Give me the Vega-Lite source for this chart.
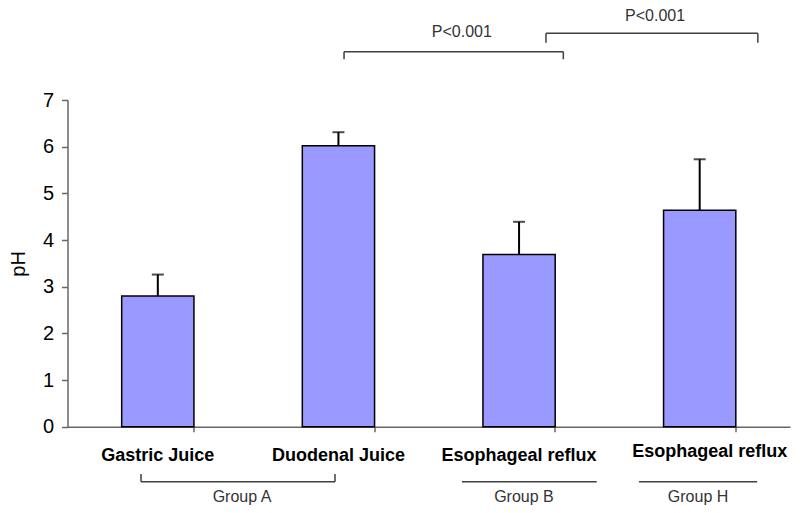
{
  "$schema": "https://vega.github.io/schema/vega-lite/v6.json",
  "width": 722.5,
  "height": 326.7,
  "autosize": {"type": "none"},
  "padding": {"left": 67.5, "top": 100, "right": 10, "bottom": 86.3},
  "background": "white",
  "config": {"view": {"stroke": null}, "font": "Liberation Sans"},
  "datasets": {
    "bars": [
      {"cat": "Gastric Juice", "pH": 2.8, "upper": 3.26},
      {"cat": "Duodenal Juice", "pH": 6.02, "upper": 6.31},
      {"cat": "Esophageal reflux B", "pH": 3.69, "upper": 4.39},
      {"cat": "Esophageal reflux H", "pH": 4.64, "upper": 5.73}
    ],
    "segments": [
      {"x1": 1.531, "x2": 2.745, "y1": 8.035, "y2": 8.035},
      {"x1": 1.531, "x2": 1.531, "y1": 8.035, "y2": 7.872},
      {"x1": 2.745, "x2": 2.745, "y1": 8.035, "y2": 7.872},
      {"x1": 2.649, "x2": 3.822, "y1": 8.43, "y2": 8.43},
      {"x1": 2.649, "x2": 2.649, "y1": 8.43, "y2": 8.228},
      {"x1": 3.822, "x2": 3.822, "y1": 8.43, "y2": 8.228},
      {"x1": 0.407, "x2": 1.481, "y1": -1.178, "y2": -1.178},
      {"x1": 0.407, "x2": 0.407, "y1": -1.178, "y2": -1.013},
      {"x1": 1.481, "x2": 1.481, "y1": -1.178, "y2": -1.013},
      {"x1": 2.184, "x2": 2.93, "y1": -1.178, "y2": -1.178},
      {"x1": 3.164, "x2": 3.818, "y1": -1.178, "y2": -1.178}
    ],
    "notes": [
      {"x": 2.183, "y": 8.464, "text": "P<0.001"},
      {"x": 3.253, "y": 8.8, "text": "P<0.001"},
      {"x": 0.966, "y": -1.507, "text": "Group A"},
      {"x": 2.527, "y": -1.507, "text": "Group B"},
      {"x": 3.491, "y": -1.507, "text": "Group H"}
    ]
  },
  "layer": [
    {
      "data": {"name": "bars"},
      "encoding": {
        "x": {
          "field": "cat", "type": "nominal", "sort": null,
          "scale": {"paddingInner": 0.6, "paddingOuter": 0.3},
          "axis": {
            "title": null, "bandPosition": 1, "labelAngle": 0,
            "labelExpr": "slice(datum.label, 0, 17)",
            "labelFontSize": 18, "labelFontWeight": "bold", "labelColor": "#000000",
            "labelPadding": {"condition": {"test": "datum.value === 'Esophageal reflux H'", "value": 11}, "value": 15},
            "labelOffset": {"condition": {"test": "datum.value === 'Esophageal reflux H'", "value": 10}, "value": 0},
            "tickSize": 5, "tickColor": "#666666", "domainColor": "#666666", "domainWidth": 1.5, "tickWidth": 1.5
          }
        }
      },
      "layer": [
        {
          "mark": {"type": "bar", "fill": "#9999FF", "stroke": "#000000", "strokeWidth": 1.5},
          "encoding": {
            "y": {
              "field": "pH", "type": "quantitative",
              "scale": {"domain": [0, 7], "nice": false},
              "axis": {
                "title": "pH", "values": [0, 1, 2, 3, 4, 5, 6, 7], "grid": false,
                "labelFontSize": 20, "labelColor": "#000000", "labelPadding": 8,
                "tickSize": 6, "tickColor": "#666666", "domainColor": "#666666", "domainWidth": 1.5, "tickWidth": 1.5,
                "titleFontSize": 20, "titleFontWeight": "normal", "titleColor": "#000000", "titlePadding": 14
              }
            }
          }
        },
        {
          "mark": {"type": "rule", "color": "#000000", "strokeWidth": 2},
          "encoding": {
            "y": {"field": "pH", "type": "quantitative"},
            "y2": {"field": "upper"}
          }
        },
        {
          "mark": {"type": "tick", "color": "#000000", "size": 12, "thickness": 2},
          "encoding": {
            "y": {"field": "upper", "type": "quantitative"}
          }
        }
      ]
    },
    {
      "layer": [
        {
          "data": {"name": "segments"},
          "mark": {"type": "rule", "color": "#404040", "strokeWidth": 1.5},
          "encoding": {
            "x": {"field": "x1", "type": "quantitative", "scale": {"domain": [0, 4], "nice": false, "zero": false}, "axis": null},
            "x2": {"field": "x2"},
            "y": {"field": "y1", "type": "quantitative"},
            "y2": {"field": "y2"}
          }
        },
        {
          "data": {"name": "notes"},
          "mark": {"type": "text", "fontSize": 16, "color": "#333333", "align": "center", "baseline": "middle"},
          "encoding": {
            "x": {"field": "x", "type": "quantitative", "axis": null},
            "y": {"field": "y", "type": "quantitative"},
            "text": {"field": "text"}
          }
        }
      ]
    }
  ],
  "resolve": {"scale": {"x": "independent"}}
}
